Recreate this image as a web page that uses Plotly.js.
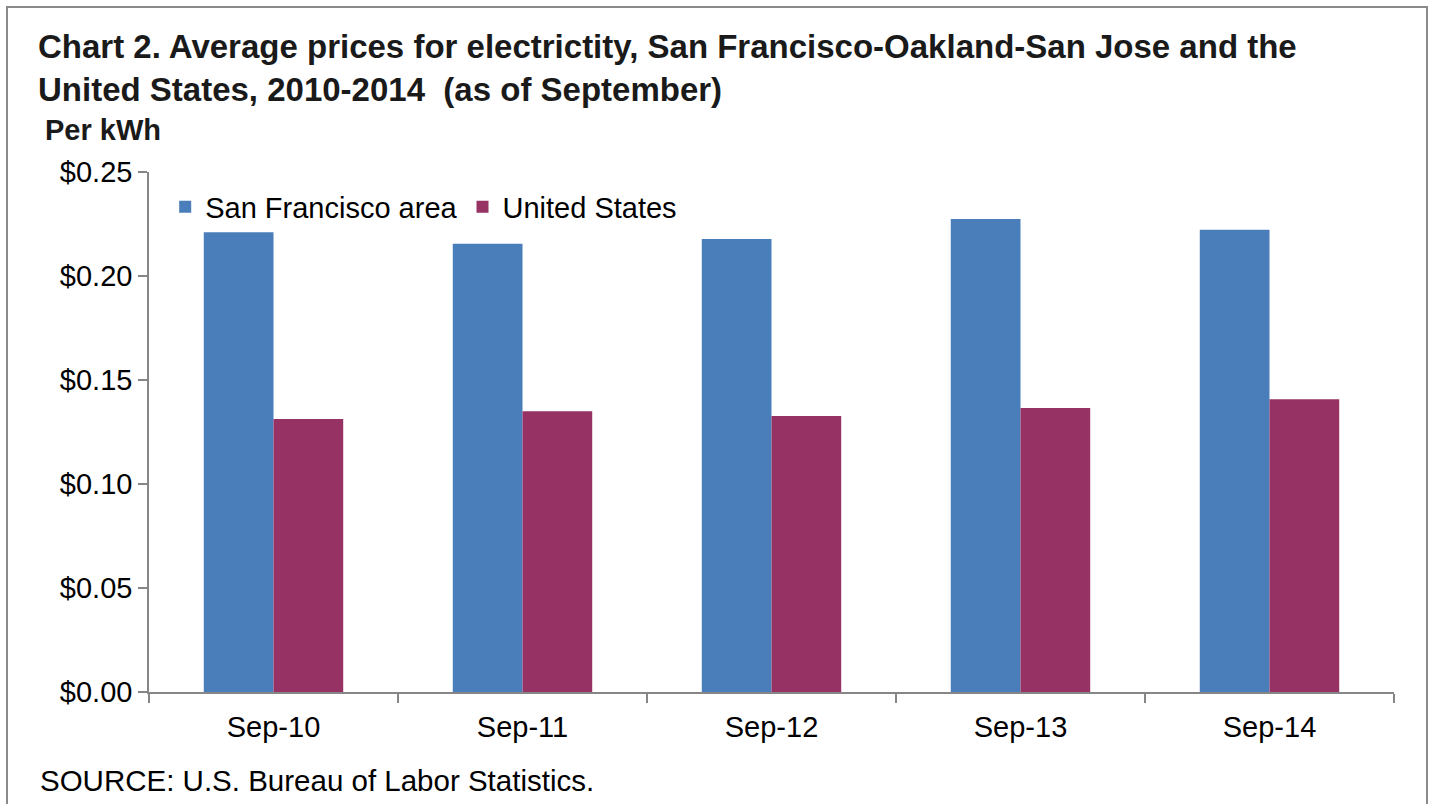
<!DOCTYPE html>
<html>
<head>
<meta charset="utf-8">
<script src="https://cdn.plot.ly/plotly-3.0.1.min.js"></script>
<style>
html,body{margin:0;padding:0;background:#fff;}
#chart{width:1433px;height:804px;}
</style>
</head>
<body>
<div id="chart"></div>
<script>
const categories = ["Sep-10", "Sep-11", "Sep-12", "Sep-13", "Sep-14"];
const sfValues = [0.221, 0.2155, 0.2178, 0.2274, 0.2222];
const usValues = [0.1313, 0.1350, 0.1327, 0.1365, 0.1408];
const yTickVals = [0, 0.05, 0.10, 0.15, 0.20, 0.25];
const yTickText = ["$0.00", "$0.05", "$0.10", "$0.15", "$0.20", "$0.25"];

const font = "Liberation Sans, Arial, sans-serif";

const traces = [
  {type: "bar", name: "San Francisco area", x: categories, y: sfValues,
   marker: {color: "#4a7ebb"}, hoverinfo: "x+y"},
  {type: "bar", name: "United States", x: categories, y: usValues,
   marker: {color: "#963264"}, hoverinfo: "x+y"}
];

const layout = {
  width: 1433, height: 804,
  paper_bgcolor: "#ffffff", plot_bgcolor: "#ffffff",
  margin: {l: 149, r: 39, t: 172, b: 112, pad: 0},
  font: {family: font, color: "#000000", size: 29},
  title: {
    text: "<b>Chart 2. Average prices for electrictity, San Francisco-Oakland-San Jose and the<br>United States, 2010-2014  (as of September)</b>",
    x: 38/1433, xanchor: "left", xref: "container",
    y: 1 - 58/804, yanchor: "top", yref: "container",
    font: {family: font, size: 33, color: "#1a1a1a"}
  },
  barmode: "group",
  bargap: 0.44,
  bargroupgap: 0,
  showlegend: true,
  legend: {
    orientation: "h", x: 0.013, xanchor: "left", y: 0.933, yanchor: "middle",
    font: {family: font, size: 29, color: "#000"},
    bgcolor: "rgba(0,0,0,0)", itemwidth: 30, traceorder: "normal"
  },
  xaxis: {
    type: "category",
    showline: true, linecolor: "#868686", linewidth: 1.5,
    ticks: "outside", tickson: "boundaries", ticklen: 9, tickcolor: "#868686", tickwidth: 1.5,
    showgrid: false, zeroline: false, ticklabelstandoff: 8,
    tickfont: {family: font, size: 29, color: "#000"}
  },
  yaxis: {
    range: [0, 0.25],
    tickvals: yTickVals, ticktext: yTickText,
    showline: true, linecolor: "#868686", linewidth: 1.5,
    ticks: "outside", ticklen: 9, tickcolor: "#868686", tickwidth: 1.5,
    showgrid: false, zeroline: false,
    tickfont: {family: font, size: 29, color: "#000"}
  },
  annotations: [
    {text: "<b>Per kWh</b>", xref: "paper", yref: "paper",
     x: -106/1245, xanchor: "left", y: (692-130)/520, yanchor: "middle",
     showarrow: false, font: {family: font, size: 29, color: "#1a1a1a"}},
    {text: "SOURCE: U.S. Bureau of Labor Statistics.", xref: "paper", yref: "paper",
     x: -111/1245, xanchor: "left", y: (692-780)/520, yanchor: "middle",
     showarrow: false, font: {family: font, size: 29.5, color: "#000"}}
  ],
  shapes: [
    {type: "rect", xref: "paper", yref: "paper",
     x0: (7-149)/1245, x1: (1427-149)/1245, y0: (692-830)/520, y1: (692-7)/520,
     line: {color: "#8a8a8a", width: 2}, fillcolor: "rgba(0,0,0,0)", layer: "below"}
  ]
};

Plotly.newPlot("chart", traces, layout, {displayModeBar: false, responsive: false});
</script>
</body>
</html>
